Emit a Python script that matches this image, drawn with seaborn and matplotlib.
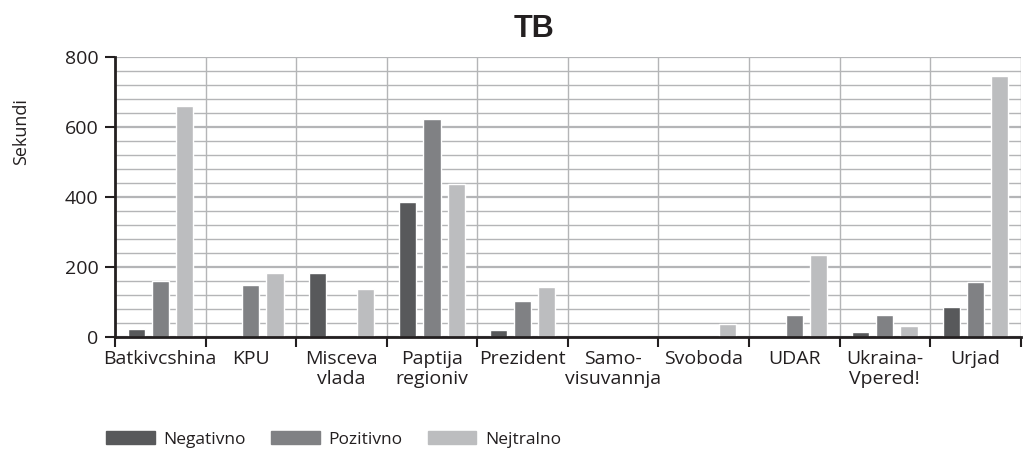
#!/usr/bin/env python3
"""
TB airtime per party, grouped bar chart (Negativno / Pozitivno / Nejtralno).
"""

import numpy as np
import pandas as pd

import matplotlib
matplotlib.use("Agg")
import matplotlib.pyplot as plt
from matplotlib.ticker import MultipleLocator, FixedLocator
import seaborn as sns

categories = [
    "Batkivcshina", "KPU", "Misceva\nvlada", "Paptija\nregioniv", "Prezident",
    "Samo-\nvisuvannja", "Svoboda", "UDAR", "Ukraina-\nVpered!", "Urjad",
]
negativno = [23, 0, 183, 384, 20, 0, 0, 0, 14, 86]
pozitivno = [160, 149, 0, 621, 103, 0, 0, 63, 63, 156]
nejtralno = [659, 183, 137, 437, 143, 0, 36, 235, 31, 745]
series = ["Negativno", "Pozitivno", "Nejtralno"]
colors = ["#58595b", "#808184", "#bcbdbf"]

TEXT = "#231f20"
GRID = "#b4b5b7"


def main() -> int:
    df = pd.DataFrame({
        "kategorija": categories * 3,
        "serija": np.repeat(series, len(categories)),
        "sekundi": negativno + pozitivno + nejtralno,
    })

    sns.set_theme(style="white")
    plt.rcParams["font.family"] = ["Open Sans", "DejaVu Sans"]

    fig = plt.figure(figsize=(10.31, 4.49), dpi=100)
    ax = fig.add_axes([0.1115, 0.2494, 0.8785, 0.6246])

    sns.barplot(
        data=df, x="kategorija", y="sekundi", hue="serija",
        order=categories, hue_order=series, palette=colors,
        width=0.8, gap=0.29, saturation=1, legend=False, ax=ax,
    )

    ax.set_xlim(-0.5, len(categories) - 0.5)
    ax.set_ylim(0, 800)
    ax.set_xlabel("")
    ax.set_ylabel("")

    # horizontal grid: major every 200, minor every 40
    ax.yaxis.set_major_locator(MultipleLocator(200))
    ax.yaxis.set_minor_locator(MultipleLocator(40))
    ax.grid(which="major", axis="y", color=GRID, linewidth=1.6)
    ax.grid(which="minor", axis="y", color=GRID, linewidth=1.0)

    # vertical lines between categories
    ax.xaxis.set_minor_locator(FixedLocator(np.arange(-0.5, len(categories), 1.0)))
    ax.grid(which="minor", axis="x", color=GRID, linewidth=1.0)
    ax.set_axisbelow(True)

    ax.tick_params(axis="x", which="major", length=0, pad=9, labelsize=14, labelcolor=TEXT)
    ax.tick_params(axis="x", which="minor", length=7, width=1.5, color=TEXT, direction="out")
    ax.tick_params(axis="y", which="major", length=7, width=1.5, color=TEXT, pad=5,
                   labelsize=14, labelcolor=TEXT, left=True)
    ax.tick_params(axis="y", which="minor", length=0)
    ax.tick_params(axis="x", which="both", bottom=True)
    for lab in ax.get_xticklabels():
        lab.set_linespacing(1.15)

    for side in ("top", "right"):
        ax.spines[side].set_visible(False)
    for side in ("left", "bottom"):
        ax.spines[side].set_color(TEXT)
        ax.spines[side].set_linewidth(2)

    fig.text(0.518, 0.935, "TB", ha="center", va="center",
             fontsize=22, fontweight="bold", color=TEXT,
             family=["Liberation Sans", "DejaVu Sans"])
    fig.text(0.02, 0.706, "Sekundi", ha="center", va="center",
             rotation=90, fontsize=13, color=TEXT)

    handles = [plt.Rectangle((0, 0), 1, 1, color=c) for c in colors]
    fig.legend(
        handles, series, loc="center left", bbox_to_anchor=(0.103, 0.022),
        ncol=3, frameon=False, borderpad=0, borderaxespad=0,
        handlelength=2.8, handleheight=0.82, handletextpad=0.5,
        columnspacing=1.45, labelcolor=TEXT, fontsize=12.5,
    )

    fig.savefig("out.png", dpi=100)
    return 0


if __name__ == "__main__":
    raise SystemExit(main())
